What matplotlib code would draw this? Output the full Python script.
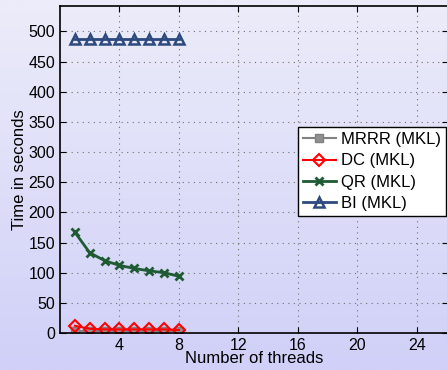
import numpy as np
import matplotlib
matplotlib.use('Agg')
import matplotlib.pyplot as plt
from matplotlib.colors import LinearSegmentedColormap

threads = [1, 2, 3, 4, 5, 6, 7, 8]
mrrr = [3, 3, 3, 3, 3, 3, 3, 3]
dc = [12, 7, 6, 6, 6, 6, 6, 5]
qr = [167, 133, 120, 112, 107, 103, 100, 94]
bi = [488, 488, 488, 488, 488, 488, 488, 488]

plt.rcParams['font.family'] = ['Liberation Sans', 'DejaVu Sans']

fig = plt.figure(figsize=(4.47, 3.70), dpi=100)

# background gradient
bg = fig.add_axes([0, 0, 1, 1], zorder=-10)
grad = np.linspace(0, 1, 256).reshape(-1, 1)
cm = LinearSegmentedColormap.from_list('bg', ['#d0d0f8', '#ececfa'])
bg.imshow(grad, aspect='auto', cmap=cm, origin='lower', extent=[0, 1, 0, 1])
bg.axis('off')

ax = fig.add_axes([60 / 447, 37 / 370, 388 / 447, 327 / 370])
ax.patch.set_alpha(0)

ax.plot(threads, mrrr, color='#808080', marker='s', ms=6, mfc='#909090', mec='#808080', lw=1.5, label='MRRR (MKL)')
ax.plot(threads, dc, color='#ff0000', marker='D', ms=6.5, mfc='none', mec='#ff0000', mew=1.5, lw=1.5, label='DC (MKL)')
ax.plot(threads, qr, color='#1e5a32', marker='x', ms=5.5, mew=2, lw=2, label='QR (MKL)')
ax.plot(threads, bi, color='#2c4a7e', marker='^', ms=7.5, mfc='none', mec='#2c4a7e', mew=1.8, lw=2, label='BI (MKL)')

ax.set_xlim(0, 26.1)
ax.set_ylim(0, 542)
ax.set_xticks([4, 8, 12, 16, 20, 24])
ax.set_yticks(np.arange(0, 501, 50))
ax.tick_params(direction='in', labelsize=11.5, length=4, top=True, right=True)
ax.grid(True, linestyle=(0, (1, 4)), color='#707070', lw=0.8)
for s in ax.spines.values():
    s.set_linewidth(1.2)

ax.set_xlabel('Number of threads', fontsize=12, labelpad=-1)
ax.set_ylabel('Time in seconds', fontsize=12, labelpad=1)

leg = ax.legend(loc='upper right', bbox_to_anchor=(386 / 388, (333 - 127) / 327), fontsize=12,
                fancybox=False, edgecolor='black', framealpha=1, borderaxespad=0,
                handlelength=2.0, labelspacing=0.38, borderpad=0.3, handletextpad=0.3)
leg.get_frame().set_linewidth(1.0)

fig.savefig('out.png', dpi=100)
